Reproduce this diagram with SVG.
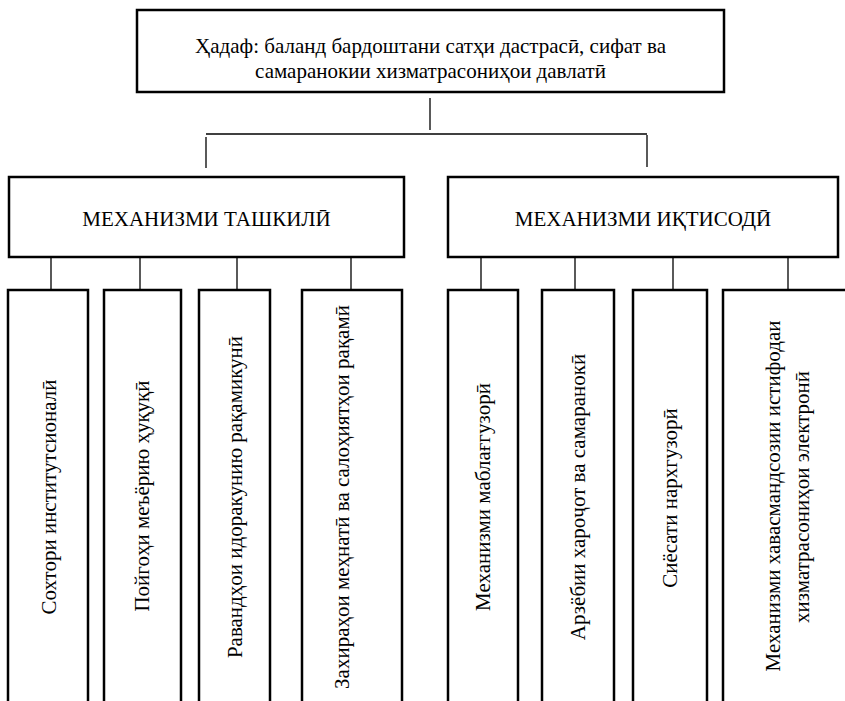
<svg xmlns="http://www.w3.org/2000/svg" width="845" height="701" viewBox="0 0 845 701">
<style>
.box{fill:#fff;stroke:#000;stroke-width:2.5}
.ln{fill:none;stroke:#000;stroke-width:1.3}
text{font-family:"Liberation Serif","Times New Roman",serif;font-size:21px;fill:#000}
.c{text-anchor:middle}
.v{text-anchor:middle;dominant-baseline:central}
</style>
<rect width="845" height="701" fill="#fff"/>
<g id="connectors">
<line class="ln" x1="430" y1="98" x2="430" y2="130"/>
<line class="ln" x1="206" y1="134" x2="647" y2="134"/>
<line class="ln" x1="206" y1="137" x2="206" y2="168"/>
<line class="ln" x1="647" y1="135" x2="647" y2="167"/>
<line class="ln" x1="51" y1="257" x2="51" y2="290"/>
<line class="ln" x1="140" y1="257" x2="140" y2="290"/>
<line class="ln" x1="237" y1="257" x2="237" y2="290"/>
<line class="ln" x1="351" y1="257" x2="351" y2="290"/>
<line class="ln" x1="481" y1="257" x2="481" y2="290"/>
<line class="ln" x1="575" y1="257" x2="575" y2="290"/>
<line class="ln" x1="673" y1="257" x2="673" y2="290"/>
<line class="ln" x1="788" y1="257" x2="788" y2="290"/>
</g>
<g id="goal">
<rect class="box" x="137" y="10" width="587" height="82"/>
<text class="c" x="430.5" y="53">Ҳадаф: баланд бардоштани сатҳи дастрасӣ, сифат ва</text>
<text class="c" x="430.5" y="78">самаранокии хизматрасониҳои давлатӣ</text>
</g>
<g id="org">
<rect class="box" x="9" y="177" width="395" height="80"/>
<text class="c" x="206.5" y="226">МЕХАНИЗМИ ТАШКИЛӢ</text>
</g>
<g id="econ">
<rect class="box" x="448" y="177" width="390" height="80"/>
<text class="c" x="643" y="226">МЕХАНИЗМИ ИҚТИСОДӢ</text>
</g>
<g id="n1">
<rect class="box" x="8" y="290" width="80" height="430"/>
<text class="v" transform="translate(49,497) rotate(-90)">Сохтори институтсионалӣ</text>
</g>
<g id="n2">
<rect class="box" x="104" y="290" width="77" height="430"/>
<text class="v" transform="translate(142,496) rotate(-90)">Пойгоҳи меъёрию ҳуқуқӣ</text>
</g>
<g id="n3">
<rect class="box" x="199" y="290" width="71" height="430"/>
<text class="v" transform="translate(235,497) rotate(-90)">Равандҳои идоракунию рақамикунӣ</text>
</g>
<g id="n4">
<rect class="box" x="302" y="290" width="100" height="430"/>
<text class="v" transform="translate(342,497) rotate(-90)">Захираҳои меҳнатӣ ва салоҳиятҳои рақамӣ</text>
</g>
<g id="n5">
<rect class="box" x="448" y="290" width="70" height="430"/>
<text class="v" transform="translate(483,497) rotate(-90)">Механизми маблағгузорӣ</text>
</g>
<g id="n6">
<rect class="box" x="542" y="290" width="72" height="430"/>
<text class="v" transform="translate(578,497) rotate(-90)">Арзёбии хароҷот ва самаранокӣ</text>
</g>
<g id="n7">
<rect class="box" x="633" y="290" width="74" height="430"/>
<text class="v" transform="translate(670,498) rotate(-90)">Сиёсати нархгузорӣ</text>
</g>
<g id="n8">
<rect class="box" x="723" y="290" width="130" height="430"/>
<text class="v" transform="translate(773,496) rotate(-90)">Механизми хавасмандсозии истифодаи</text>
<text class="v" transform="translate(802,497) rotate(-90)">хизматрасониҳои электронӣ</text>
</g>
</svg>
